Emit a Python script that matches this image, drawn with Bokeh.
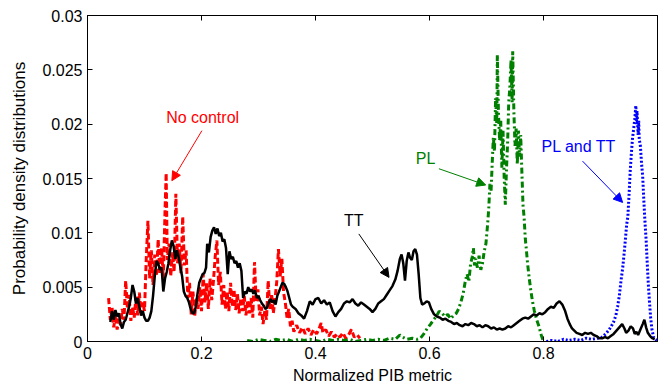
from bokeh.plotting import figure
from bokeh.models import LinearAxis, FixedTicker, Range1d, Arrow, NormalHead, Label
from bokeh.embed import file_html
from bokeh.resources import INLINE

# ---------------- data ----------------
x_ticks = [0, 0.2, 0.4, 0.6, 0.8]
x_tick_labels = ["0", "0.2", "0.4", "0.6", "0.8"]
y_ticks = [0, 0.005, 0.01, 0.015, 0.02, 0.025, 0.03]
y_tick_labels = ["0", "0.005", "0.01", "0.015", "0.02", "0.025", "0.03"]

# "No control" (red, dashed)
nc_x = [0.037, 0.040, 0.043, 0.046, 0.049, 0.052, 0.055, 0.058, 0.061, 0.064, 0.067, 0.070, 0.073, 0.076, 0.079,
        0.082, 0.085, 0.088, 0.091, 0.094, 0.097, 0.100, 0.103, 0.106, 0.109, 0.112, 0.115, 0.118, 0.121, 0.124,
        0.127, 0.130, 0.133, 0.136, 0.138, 0.140, 0.143, 0.146, 0.149, 0.152, 0.155, 0.158, 0.161, 0.164, 0.167,
        0.170, 0.173, 0.176, 0.179, 0.182, 0.185, 0.188, 0.191, 0.194, 0.197, 0.200, 0.203, 0.206, 0.209, 0.212,
        0.215, 0.218, 0.221, 0.224, 0.227, 0.230, 0.233, 0.236, 0.239, 0.242, 0.245, 0.248, 0.251, 0.254, 0.257,
        0.260, 0.263, 0.266, 0.269, 0.272, 0.275, 0.278, 0.281, 0.284, 0.287, 0.290, 0.293, 0.296, 0.299, 0.302,
        0.305, 0.308, 0.311, 0.314, 0.317, 0.320, 0.323, 0.326, 0.329, 0.332, 0.335, 0.338, 0.341, 0.344, 0.347,
        0.350, 0.353, 0.356, 0.359, 0.362, 0.367, 0.372, 0.377, 0.382, 0.387, 0.392, 0.397, 0.402, 0.407, 0.410,
        0.413, 0.418, 0.423, 0.428, 0.433, 0.438, 0.443, 0.448, 0.453, 0.458, 0.463, 0.468, 0.473, 0.478]
nc_y = [0.0040, 0.0020, 0.0032, 0.0013, 0.0025, 0.0011, 0.0021, 0.0015, 0.0030, 0.0020, 0.0056, 0.0030, 0.0043,
        0.0019, 0.0032, 0.0022, 0.0041, 0.0024, 0.0045, 0.0026, 0.0036, 0.0028, 0.0075, 0.0111, 0.0058, 0.0084,
        0.0052, 0.0080, 0.0060, 0.0094, 0.0062, 0.0086, 0.0058, 0.0120, 0.0155, 0.0075, 0.0090, 0.0060, 0.0082,
        0.0064, 0.0136, 0.0072, 0.0090, 0.0063, 0.0115, 0.0070, 0.0084, 0.0040, 0.0054, 0.0025, 0.0046, 0.0023,
        0.0040, 0.0030, 0.0050, 0.0028, 0.0062, 0.0036, 0.0054, 0.0030, 0.0058, 0.0038, 0.0056, 0.0078, 0.0093,
        0.0052, 0.0064, 0.0034, 0.0052, 0.0030, 0.0046, 0.0028, 0.0054, 0.0032, 0.0048, 0.0029, 0.0044, 0.0026,
        0.0040, 0.0028, 0.0042, 0.0024, 0.0038, 0.0026, 0.0040, 0.0022, 0.0073, 0.0036, 0.0048, 0.0024, 0.0032,
        0.0016, 0.0028, 0.0020, 0.0056, 0.0030, 0.0044, 0.0026, 0.0039, 0.0055, 0.0085, 0.0060, 0.0076, 0.0045,
        0.0036, 0.0022, 0.0030, 0.0014, 0.0019, 0.0009, 0.0015, 0.0008, 0.0013, 0.0007, 0.0012, 0.0006, 0.0011,
        0.0007, 0.0013, 0.0017, 0.0008, 0.0011, 0.0005, 0.0009, 0.0004, 0.0007, 0.0004, 0.0008, 0.0003, 0.0006,
        0.0011, 0.0004, 0.0006, 0.0003]

# "TT" (black, solid)
tt_x = [0.040, 0.043, 0.046, 0.049, 0.052, 0.055, 0.058, 0.061, 0.064, 0.067, 0.070, 0.073, 0.076, 0.079, 0.082,
        0.085, 0.088, 0.091, 0.094, 0.097, 0.100, 0.103, 0.106, 0.109, 0.112, 0.115, 0.118, 0.121, 0.124, 0.127,
        0.130, 0.133, 0.136, 0.139, 0.142, 0.145, 0.148, 0.151, 0.154, 0.157, 0.160, 0.163, 0.166, 0.169, 0.172,
        0.175, 0.178, 0.181, 0.184, 0.187, 0.190, 0.193, 0.196, 0.199, 0.202, 0.205, 0.208, 0.210, 0.213, 0.216,
        0.219, 0.222, 0.225, 0.228, 0.231, 0.234, 0.237, 0.240, 0.243, 0.246, 0.249, 0.252, 0.255, 0.258, 0.261,
        0.264, 0.267, 0.270, 0.273, 0.276, 0.279, 0.282, 0.285, 0.288, 0.291, 0.294, 0.297, 0.300, 0.303, 0.306,
        0.309, 0.312, 0.315, 0.318, 0.321, 0.324, 0.327, 0.330, 0.333, 0.336, 0.339, 0.342, 0.345, 0.348, 0.351,
        0.354, 0.357, 0.360, 0.365, 0.370, 0.375, 0.380, 0.385, 0.390, 0.395, 0.400, 0.405, 0.410, 0.415, 0.420,
        0.425, 0.430, 0.435, 0.440, 0.445, 0.450, 0.455, 0.460, 0.465, 0.470, 0.475, 0.480, 0.485, 0.490, 0.495,
        0.500, 0.505, 0.510, 0.515, 0.520, 0.525, 0.530, 0.535, 0.540, 0.544, 0.548, 0.551, 0.554, 0.557, 0.560,
        0.563, 0.566, 0.569, 0.572, 0.575, 0.578, 0.581, 0.584, 0.587, 0.591, 0.595, 0.599, 0.603, 0.608, 0.613,
        0.618, 0.623, 0.628, 0.633, 0.638, 0.643, 0.648, 0.653, 0.658, 0.663, 0.668, 0.673, 0.678, 0.683, 0.688,
        0.693, 0.698, 0.703, 0.708, 0.713, 0.718, 0.723, 0.728, 0.733, 0.738, 0.743, 0.748, 0.753, 0.758, 0.763,
        0.768, 0.773, 0.778, 0.783, 0.788, 0.793, 0.798, 0.803, 0.808, 0.813, 0.818, 0.823, 0.828, 0.833, 0.838,
        0.842, 0.846, 0.850, 0.854, 0.858, 0.863, 0.868, 0.873, 0.878, 0.883, 0.888, 0.893, 0.898, 0.903, 0.908,
        0.913, 0.918, 0.923, 0.928, 0.933, 0.938, 0.942, 0.945, 0.949, 0.953, 0.957, 0.960, 0.963, 0.966, 0.970,
        0.974, 0.977, 0.980, 0.983, 0.987, 0.991, 0.995]
tt_y = [0.0018, 0.0028, 0.0020, 0.0029, 0.0023, 0.0026, 0.0016, 0.0012, 0.0018, 0.0020, 0.0026, 0.0032, 0.0040,
        0.0052, 0.0046, 0.0035, 0.0040, 0.0032, 0.0024, 0.0028, 0.0022, 0.0019, 0.0019, 0.0022, 0.0028, 0.0042,
        0.0060, 0.0074, 0.0072, 0.0066, 0.0068, 0.0046, 0.0058, 0.0064, 0.0072, 0.0084, 0.0093, 0.0088, 0.0076,
        0.0084, 0.0078, 0.0068, 0.0060, 0.0046, 0.0042, 0.0040, 0.0036, 0.0030, 0.0026, 0.0026, 0.0032, 0.0044,
        0.0054, 0.0058, 0.0062, 0.0063, 0.0068, 0.0090, 0.0082, 0.0096, 0.0102, 0.0105, 0.0099, 0.0104, 0.0097,
        0.0100, 0.0092, 0.0094, 0.0086, 0.0062, 0.0083, 0.0076, 0.0078, 0.0072, 0.0074, 0.0068, 0.0072, 0.0065,
        0.0040, 0.0046, 0.0044, 0.0050, 0.0046, 0.0048, 0.0044, 0.0047, 0.0040, 0.0042, 0.0038, 0.0035, 0.0033,
        0.0030, 0.0031, 0.0036, 0.0039, 0.0036, 0.0038, 0.0034, 0.0042, 0.0046, 0.0050, 0.0054, 0.0053, 0.0050,
        0.0046, 0.0040, 0.0034, 0.0032, 0.0030, 0.0026, 0.0024, 0.0021, 0.0028, 0.0037, 0.0034, 0.0039, 0.0040,
        0.0035, 0.0038, 0.0034, 0.0036, 0.0028, 0.0023, 0.0027, 0.0030, 0.0035, 0.0037, 0.0036, 0.0039, 0.0035,
        0.0033, 0.0036, 0.0034, 0.0032, 0.0030, 0.0027, 0.0030, 0.0035, 0.0037, 0.0039, 0.0043, 0.0047, 0.0051,
        0.0057, 0.0065, 0.0076, 0.0080, 0.0072, 0.0056, 0.0074, 0.0082, 0.0077, 0.0075, 0.0083, 0.0085, 0.0080,
        0.0062, 0.0040, 0.0034, 0.0035, 0.0037, 0.0036, 0.0030, 0.0025, 0.0023, 0.0022, 0.0020, 0.0021, 0.0019,
        0.0018, 0.0016, 0.0017, 0.0015, 0.0014, 0.0016, 0.0015, 0.0017, 0.0016, 0.0014, 0.0015, 0.0013, 0.0015,
        0.0014, 0.0012, 0.0013, 0.0011, 0.0012, 0.0011, 0.0012, 0.0014, 0.0013, 0.0015, 0.0017, 0.0019, 0.0021,
        0.0022, 0.0021, 0.0023, 0.0025, 0.0024, 0.0026, 0.0025, 0.0027, 0.0030, 0.0032, 0.0031, 0.0035, 0.0037,
        0.0034, 0.0028, 0.0021, 0.0016, 0.0012, 0.0010, 0.0008, 0.0007, 0.0006, 0.0008, 0.0007, 0.0008, 0.0006,
        0.0005, 0.0003, 0.0003, 0.0004, 0.0003, 0.0005, 0.0007, 0.0010, 0.0013, 0.0016, 0.0012, 0.0008, 0.0010,
        0.0014, 0.0012, 0.0007, 0.0009, 0.0006, 0.0011, 0.0016, 0.0020, 0.0013, 0.0008, 0.0005, 0.0003, 0.0002]

# "PL" (green, dash-dot)
pl_x = [0.280, 0.290, 0.300, 0.310, 0.320, 0.330, 0.340, 0.350, 0.360, 0.370, 0.380, 0.390, 0.400, 0.410, 0.420,
        0.430, 0.440, 0.450, 0.460, 0.470, 0.480, 0.490, 0.500, 0.510, 0.520, 0.530, 0.540, 0.548, 0.553, 0.560,
        0.570, 0.578, 0.584, 0.590, 0.596, 0.602, 0.607, 0.612, 0.617, 0.622, 0.627, 0.632, 0.637, 0.642, 0.647,
        0.651, 0.655, 0.659, 0.663, 0.666, 0.669, 0.672, 0.675, 0.677, 0.679, 0.681, 0.684, 0.687, 0.690, 0.693,
        0.696, 0.699, 0.702, 0.704, 0.706, 0.708, 0.710, 0.712, 0.714, 0.716, 0.718, 0.719, 0.721, 0.723, 0.725,
        0.727, 0.729, 0.731, 0.733, 0.735, 0.737, 0.739, 0.741, 0.743, 0.745, 0.746, 0.748, 0.750, 0.752, 0.754,
        0.756, 0.758, 0.760, 0.762, 0.764, 0.766, 0.768, 0.770, 0.772, 0.775, 0.778, 0.781, 0.784, 0.788, 0.792,
        0.796, 0.800]
pl_y = [0.0001, 0.0000, 0.0002, 0.0001, 0.0000, 0.0002, 0.0001, 0.0002, 0.0000, 0.0002, 0.0001, 0.0002, 0.0001,
        0.0000, 0.0002, 0.0001, 0.0002, 0.0001, 0.0002, 0.0000, 0.0001, 0.0002, 0.0001, 0.0002, 0.0001, 0.0003,
        0.0002, 0.0006, 0.0004, 0.0002, 0.0003, 0.0002, 0.0003, 0.0007, 0.0012, 0.0016, 0.0020, 0.0023, 0.0028,
        0.0026, 0.0023, 0.0025, 0.0021, 0.0024, 0.0026, 0.0030, 0.0036, 0.0044, 0.0056, 0.0062, 0.0055, 0.0071,
        0.0078, 0.0086, 0.0070, 0.0076, 0.0068, 0.0079, 0.0066, 0.0072, 0.0083, 0.0090, 0.0108, 0.0123, 0.0145,
        0.0138, 0.0164, 0.0188, 0.0175, 0.0224, 0.0200, 0.0264, 0.0210, 0.0185, 0.0203, 0.0160, 0.0194, 0.0151,
        0.0126, 0.0158, 0.0182, 0.0220, 0.0234, 0.0259, 0.0220, 0.0267, 0.0212, 0.0180, 0.0196, 0.0163, 0.0194,
        0.0170, 0.0190, 0.0157, 0.0126, 0.0114, 0.0095, 0.0084, 0.0072, 0.0058, 0.0046, 0.0036, 0.0028, 0.0020,
        0.0014, 0.0006, 0.0000]

# "PL and TT" (blue, dotted)
pt_x = [0.805, 0.815, 0.825, 0.835, 0.845, 0.855, 0.865, 0.875, 0.885, 0.895, 0.903, 0.909, 0.914, 0.919, 0.923,
        0.927, 0.930, 0.933, 0.936, 0.939, 0.942, 0.944, 0.946, 0.948, 0.950, 0.952, 0.954, 0.956, 0.958, 0.960,
        0.962, 0.963, 0.964, 0.966, 0.967, 0.968, 0.970, 0.972, 0.974, 0.976, 0.978, 0.980, 0.982, 0.984, 0.986,
        0.988, 0.990, 0.993, 0.996, 0.999]
pt_y = [0.0000, 0.0001, 0.0000, 0.0002, 0.0001, 0.0002, 0.0001, 0.0003, 0.0002, 0.0003, 0.0004, 0.0007, 0.0010,
        0.0014, 0.0018, 0.0024, 0.0032, 0.0042, 0.0056, 0.0068, 0.0084, 0.0096, 0.0108, 0.0115, 0.0134, 0.0156,
        0.0172, 0.0186, 0.0195, 0.0204, 0.0217, 0.0200, 0.0212, 0.0190, 0.0203, 0.0186, 0.0180, 0.0164, 0.0152,
        0.0130, 0.0110, 0.0094, 0.0072, 0.0052, 0.0036, 0.0022, 0.0012, 0.0004, 0.0002, 0.0001]

# ---------------- figure ----------------
FONT = "Liberation Sans"

p = figure(width=658, height=387, output_backend="svg", toolbar_location=None,
           x_range=Range1d(0, 1), y_range=Range1d(0, 0.03),
           min_border_left=87, min_border_right=1, min_border_top=15, min_border_bottom=46)
p.xgrid.visible = False
p.ygrid.visible = False
p.outline_line_color = "black"
p.outline_line_width = 1
p.background_fill_color = "white"
p.border_fill_color = "white"

xax = p.below[0]
yax = p.left[0]
xax.ticker = FixedTicker(ticks=x_ticks)
xax.major_label_overrides = dict(zip(x_ticks, x_tick_labels))
yax.ticker = FixedTicker(ticks=y_ticks)
yax.major_label_overrides = dict(zip(y_ticks, y_tick_labels))

top = LinearAxis(ticker=FixedTicker(ticks=x_ticks),
                 major_label_overrides={t: "" for t in x_ticks})
right = LinearAxis(ticker=FixedTicker(ticks=y_ticks),
                   major_label_overrides={t: "" for t in y_ticks})
p.add_layout(top, "above")
p.add_layout(right, "right")

for ax in (xax, yax, top, right):
    ax.major_tick_in = 5
    ax.major_tick_out = 0
    ax.minor_tick_line_color = None
    ax.axis_line_color = "black"
    ax.major_tick_line_color = "black"
    ax.major_label_text_font = FONT
    ax.major_label_text_font_size = "16px"
    ax.major_label_text_color = "black"

for ax in (top, right):
    ax.major_label_standoff = 0

xax.major_label_standoff = 5
yax.major_label_standoff = 5
xax.axis_label = "Normalized PIB metric"
xax.axis_label_text_font = FONT
xax.axis_label_text_font_size = "16px"
xax.axis_label_text_font_style = "normal"
xax.axis_label_text_color = "black"
xax.axis_label_standoff = 5
yax.axis_label = "Probability density distributions"
yax.axis_label_text_font = FONT
yax.axis_label_text_font_size = "17px"
yax.axis_label_text_font_style = "normal"
yax.axis_label_text_color = "black"
yax.axis_label_standoff = 10

p.line(nc_x, nc_y, line_color="#ff0000", line_width=3, line_dash="6 3")
p.line(pl_x, pl_y, line_color="#008000", line_width=3, line_dash="6 3 2 3")
p.line(pt_x, pt_y, line_color="#0000ff", line_width=3, line_dash="2 2")
p.line(tt_x, tt_y, line_color="#000000", line_width=2.5)

# annotations
def note(text, color, tx, ty, x0, y0, x1, y1):
    p.add_layout(Label(x=tx, y=ty, text=text, text_color=color, text_font=FONT,
                       text_font_size="16px", text_align="center", text_baseline="middle"))
    p.add_layout(Arrow(end=NormalHead(size=9, fill_color=color, line_color=color, line_width=1),
                       x_start=x0, y_start=y0, x_end=x1, y_end=y1,
                       line_color=color, line_width=1))

note("No control", "#ff0000", 0.202, 0.0206, 0.2007, 0.0194, 0.148, 0.0148)
note("TT", "#000000", 0.467, 0.0111, 0.476, 0.0099, 0.529, 0.0059)
note("PL", "#008000", 0.593, 0.0168, 0.6165, 0.0159, 0.6986, 0.0144)
note("PL and TT", "#0000ff", 0.862, 0.0179, 0.8685, 0.0166, 0.9388, 0.0128)

open("out.html", "w").write(file_html(p, INLINE))
